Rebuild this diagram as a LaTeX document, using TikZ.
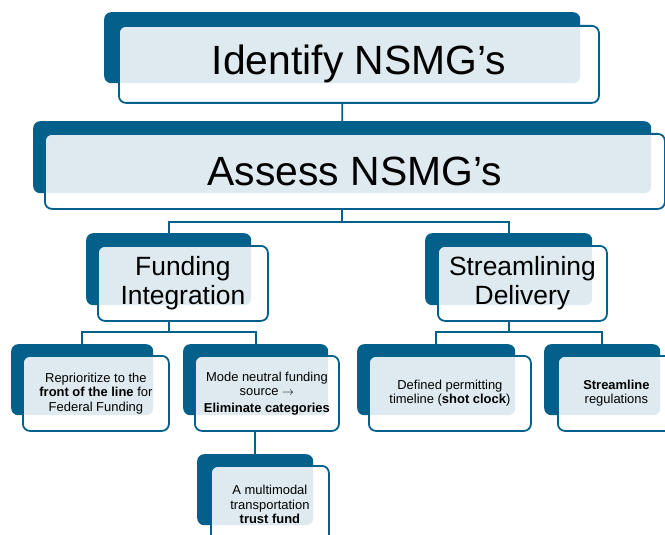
\documentclass[tikz,border=0pt]{standalone}
\usepackage{fontspec}
\setmainfont{Liberation Sans}
\usepackage{tikz}
\definecolor{nblue}{HTML}{03608B}

\begin{document}
\begin{tikzpicture}[x=1bp,y=-1bp,
  back/.style={rectangle,rounded corners=7bp,fill=nblue,anchor=north west,inner sep=0pt},
  front/.style={rectangle,rounded corners=7bp,draw=nblue,line width=1.8bp,fill=white,
    fill opacity=0.87,text opacity=1,anchor=north west,inner sep=0pt,align=center},
  big/.style={font=\fontsize{41}{45}\selectfont},
  mid/.style={font=\fontsize{26.5}{29}\selectfont},
  small/.style={font=\fontsize{13}{14.5}\selectfont},
  link/.style={draw=nblue,line width=1.8bp}]
  \clip (0,0) rectangle (665,535);
  % shadow boxes
  \node[back,minimum width=476bp,minimum height=71bp] (identb) at (104,12) {};
  \node[back,minimum width=618bp,minimum height=72bp] (assessb) at (33,121) {};
  \node[back,minimum width=165bp,minimum height=72bp] (fundb) at (86,233) {};
  \node[back,minimum width=167bp,minimum height=72bp] (streamb) at (425,233) {};
  \node[back,minimum width=142bp,minimum height=71bp] (reprb) at (11,344) {};
  \node[back,minimum width=145bp,minimum height=71bp] (modeb) at (183,344) {};
  \node[back,minimum width=158bp,minimum height=71bp] (defb) at (357,344) {};
  \node[back,minimum width=116bp,minimum height=71bp] (slineb) at (544,344) {};
  \node[back,minimum width=116bp,minimum height=71bp] (trustb) at (197,454) {};
  % text boxes
  \node[front,big,minimum width=480bp,minimum height=77bp] (ident) at (118,25)
    {Identify NSMG’s};
  \node[front,big,minimum width=620bp,minimum height=75bp] (assess) at (44,133)
    {Assess NSMG’s};
  \node[front,mid,minimum width=170bp,minimum height=75bp] (fund) at (97,245)
    {Funding\\Integration};
  \node[front,mid,minimum width=169bp,minimum height=75bp] (stream) at (437,245)
    {Streamlining\\Delivery};
  \node[front,small,minimum width=146bp,minimum height=75bp] (repr) at (22,355)
    {Reprioritize to the\\\textbf{front of the line} for\\Federal Funding};
  \node[front,small,minimum width=144bp,minimum height=75bp] (mode) at (194,355)
    {Mode neutral funding\\source $\rightarrow$\\[2pt]\textbf{Eliminate categories}};
  \node[front,small,minimum width=162bp,minimum height=75bp] (def) at (368,355)
    {Defined permitting\\timeline (\textbf{shot clock})};
  \node[front,small,minimum width=117bp,minimum height=75bp] (sline) at (557,355)
    {\textbf{Streamline}\\regulations};
  \node[front,small,minimum width=118bp,minimum height=77bp] (trust) at (210,465)
    {A multimodal\\transportation\\\textbf{trust fund}};
  % connectors
  \draw[link] (identb.south |- ident.south) -- (assessb.north);
  \draw[link] (assessb.south |- assess.south) -- ++(0,12) coordinate (bus1);
  \draw[link] (fundb.north) |- (bus1) -| (streamb.north);
  \draw[link] (fundb.south |- fund.south) -- ++(0,10) coordinate (bus2);
  \draw[link] (reprb.north) |- (bus2) -| (modeb.north);
  \draw[link] (streamb.south |- stream.south) -- ++(0,10) coordinate (bus3);
  \draw[link] (defb.north) |- (bus3) -| (slineb.north);
  \draw[link] (trustb.north |- mode.south) -- (trustb.north);
\end{tikzpicture}
\end{document}
